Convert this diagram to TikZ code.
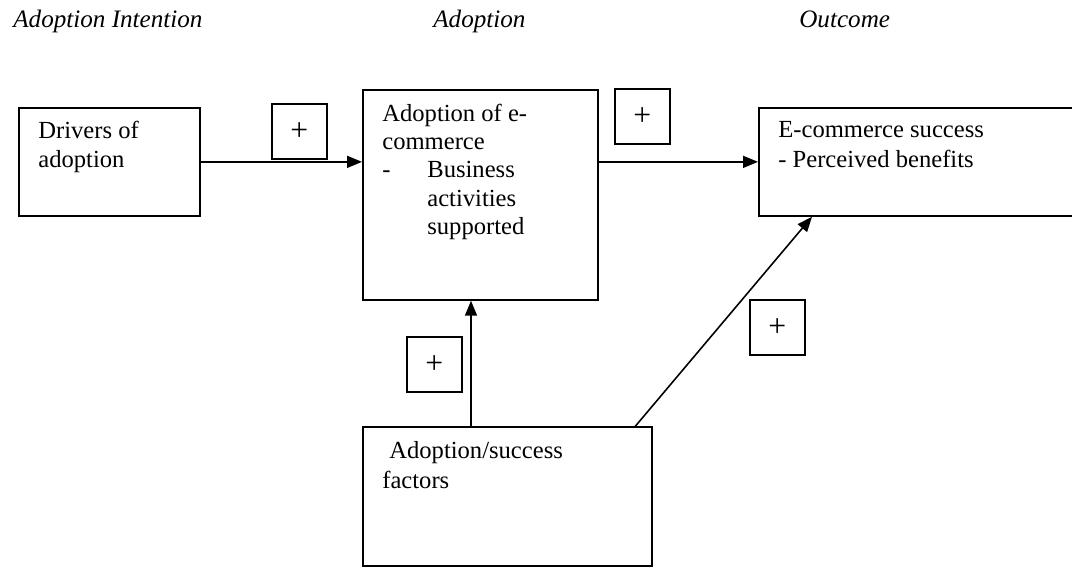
\documentclass[tikz,border=0pt]{standalone}
\usepackage{fontspec}
\setmainfont{Liberation Serif}
\usetikzlibrary{arrows.meta,calc}
\begin{document}
\begin{tikzpicture}[x=0.02cm,y=-0.02cm,
  box/.style={draw,line width=1pt,inner sep=0pt,anchor=north west},
  plusbox/.style={draw,line width=0.9pt,inner sep=0pt,anchor=north west,minimum width=1.1cm,minimum height=1.1cm,font=\fontsize{18}{20}\selectfont},
  txt/.style={anchor=base west,inner sep=0pt,font=\fontsize{14}{16}\selectfont},
  title/.style={anchor=base west,inner sep=0pt,font=\fontsize{14.3}{16}\selectfont\itshape},
  conn/.style={line width=0.9pt,-{Triangle[length=0.3cm,width=0.24cm]}}]
\clip (0,0) rectangle (1072,567);
% titles
\node[title] (t1) at (13,28) {Adoption Intention};
\node[title] (t2) at (433,28) {Adoption};
\node[title] (t3) at (799,28) {Outcome};
% boxes
\node[box,minimum width=3.62cm,minimum height=2.16cm] (b1) at (18,107) {};
\node[box,minimum width=4.70cm,minimum height=4.20cm] (b2) at (362,89) {};
\node[box,minimum width=6.50cm,minimum height=2.16cm] (b3) at (758,107) {};
\node[box,minimum width=5.78cm,minimum height=2.78cm] (b4) at (362,426) {};
% box texts
\node[txt] (l1a) at (38,139) {Drivers of};
\node[txt] (l1b) at (38,168) {adoption};
\node[txt] (l2a) at (382,122) {Adoption of e-};
\node[txt] (l2b) at (382,150) {commerce};
\node[txt] (l2c) at (382,178) {-};
\node[txt] (l2d) at (427,178) {Business};
\node[txt] (l2e) at (427,207) {activities};
\node[txt] (l2f) at (427,235) {supported};
\node[txt] (l3a) at (778,138) {E-commerce success};
\node[txt] (l3b) at (778,168) {- Perceived benefits};
\node[txt] (l4a) at (389,459) {Adoption/success};
\node[txt] (l4b) at (382,488) {factors};
% plus boxes
\node[plusbox] (p1) at (271,103) {+};
\node[plusbox] (p2) at (614,88) {+};
\node[plusbox] (p3) at (406,336) {+};
\node[plusbox] (p4) at (749,299) {+};
% connectors
\draw[conn] (b1.east) -- (b1.east -| b2.west);
\draw[conn] (b3.west -| b2.east) -- (b3.west);
\coordinate (c4) at ($(b4.north west)+(109,0)$);
\draw[conn] (c4) -- (c4 |- b2.south);
\coordinate (d4) at ($(b4.north east)+(-18,1)$);
\coordinate (d3) at ($(b3.south west)+(54,0)$);
\draw[conn] (d4) -- (d3);
\end{tikzpicture}
\end{document}
